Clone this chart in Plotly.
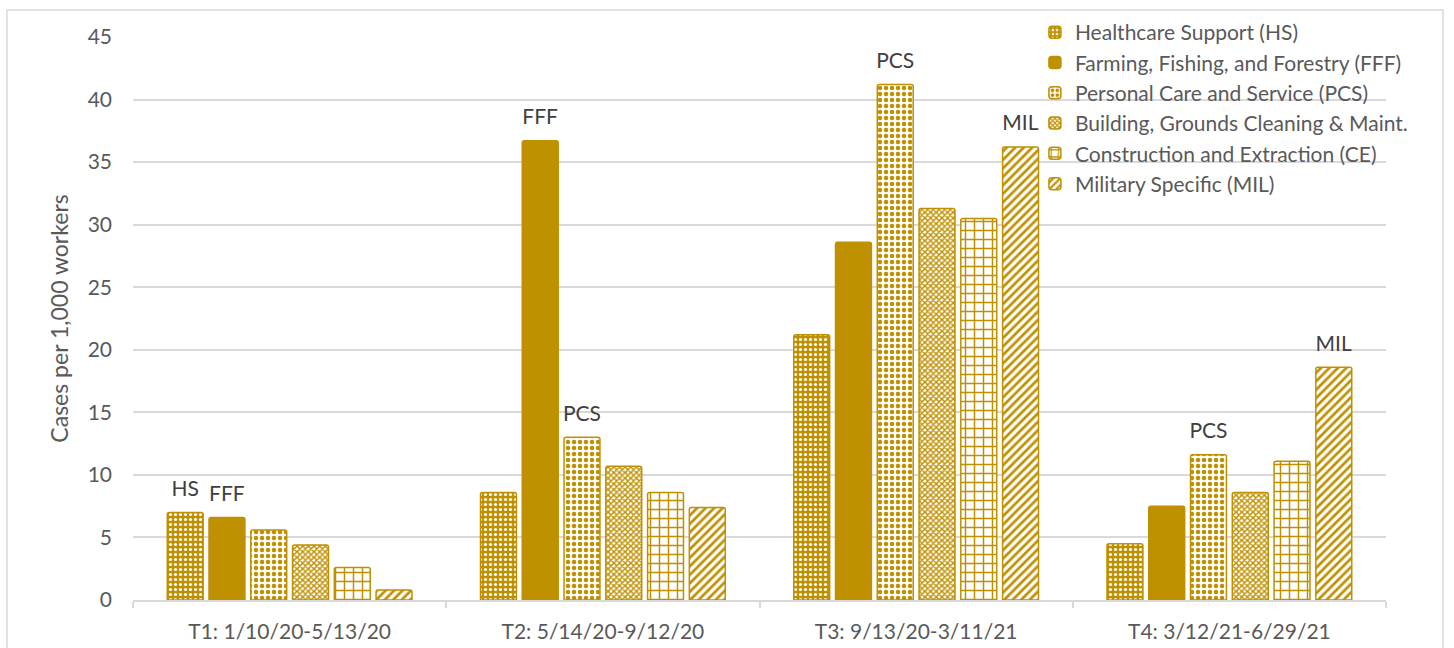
import plotly.graph_objects as go

categories = ["T1: 1/10/20-5/13/20", "T2: 5/14/20-9/12/20",
              "T3: 9/13/20-3/11/21", "T4: 3/12/21-6/29/21"]

series_names = ["Healthcare Support (HS)",
                "Farming, Fishing, and Forestry (FFF)",
                "Personal Care and Service (PCS)",
                "Building, Grounds Cleaning & Maint.",
                "Construction and Extraction (CE)",
                "Military Specific (MIL)"]

hs = [7.0, 8.6, 21.2, 4.5]
fff = [6.6, 36.7, 28.6, 7.5]
pcs = [5.6, 13.0, 41.2, 11.6]
bgm = [4.4, 10.7, 31.3, 8.6]
ce = [2.6, 8.6, 30.5, 11.1]
mil = [0.8, 7.4, 36.2, 18.6]

hs_labels = ["HS", "", "", ""]
fff_labels = ["FFF", "FFF", "", ""]
pcs_labels = ["", "PCS", "PCS", "PCS"]
bgm_labels = ["", "", "", ""]
ce_labels = ["", "", "", ""]
mil_labels = ["", "", "MIL", "MIL"]

y_ticks = [0, 5, 10, 15, 20, 25, 30, 35, 40, 45]

GOLD = "#BF9000"
WHITE = "#FFFFFF"
FONT = "Lato"
TXT = "#595959"

patterns = [
    dict(shape=".", fgcolor=WHITE, bgcolor=GOLD, size=5, solidity=0.3, fillmode="replace"),
    dict(shape="", fgcolor=GOLD, bgcolor=GOLD),
    dict(shape=".", fgcolor=GOLD, bgcolor=WHITE, size=6, solidity=0.45, fillmode="replace"),
    dict(shape="x", fgcolor=GOLD, bgcolor=WHITE, size=4, solidity=0.6, fillmode="replace"),
    dict(shape="+", fgcolor=GOLD, bgcolor=WHITE, size=9, solidity=0.3, fillmode="replace"),
    dict(shape="/", fgcolor=GOLD, bgcolor=WHITE, size=6, solidity=0.45, fillmode="replace"),
]

values = [hs, fff, pcs, bgm, ce, mil]
labels = [hs_labels, fff_labels, pcs_labels, bgm_labels, ce_labels, mil_labels]

fig = go.Figure()
for name, vals, labs, pat in zip(series_names, values, labels, patterns):
    txt = [("<span style='font-size:21px'>" + l + "</span><br>\u00a0") if l else "" for l in labs]
    fig.add_trace(go.Bar(
        name=name, x=categories, y=vals, text=txt,
        textposition="outside", texttemplate="%{text}",
        textfont=dict(family=FONT, size=9, color="#404040"),
        constraintext="none", cliponaxis=False,
        marker=dict(color=GOLD if pat["shape"] == "" else WHITE,
                    line=dict(color=GOLD, width=1.5),
                    pattern=pat, cornerradius=2),
        hoverinfo="skip",
    ))

fig.update_layout(
    width=1454, height=648,
    margin=dict(l=133, r=68, t=37, b=48),
    paper_bgcolor="white", plot_bgcolor="white",
    barmode="group", bargap=0.2, bargroupgap=0.14,
    font=dict(family=FONT, size=20, color=TXT),
    showlegend=True,
    legend=dict(x=0.7198, y=1.0444, xanchor="left", yanchor="top",
                bgcolor="rgba(0,0,0,0)", font=dict(family=FONT, size=21, color=TXT),
                itemwidth=30, tracegroupgap=0, traceorder="normal"),
    xaxis=dict(
        automargin=False,
        showline=True, linecolor="#D9D9D9", linewidth=1.5,
        ticks="outside", tickson="boundaries", ticklen=6, tickcolor="#D9D9D9", tickwidth=1.5,
        tickfont=dict(family=FONT, size=21, color=TXT),
        ticklabelstandoff=12,
        showgrid=False,
    ),
    yaxis=dict(
        automargin=False,
        range=[0, 45], tickvals=y_ticks, ticks="",
        showgrid=True, gridcolor="#D9D9D9", gridwidth=1.5,
        zeroline=False, showline=False,
        tickfont=dict(family=FONT, size=21, color=TXT),
        ticklabelstandoff=20,
        title=dict(text="Cases per 1,000 workers", standoff=12,
                   font=dict(family=FONT, size=23, color=TXT)),
    ),
    shapes=[dict(type="rect", xref="paper", yref="paper",
                 x0=-0.1006, x1=1.0455, y0=-0.12, y1=1.048,
                 line=dict(color="#D9D9D9", width=1.5), fillcolor="rgba(0,0,0,0)",
                 layer="below")],
)

fig.write_html("out.html")
